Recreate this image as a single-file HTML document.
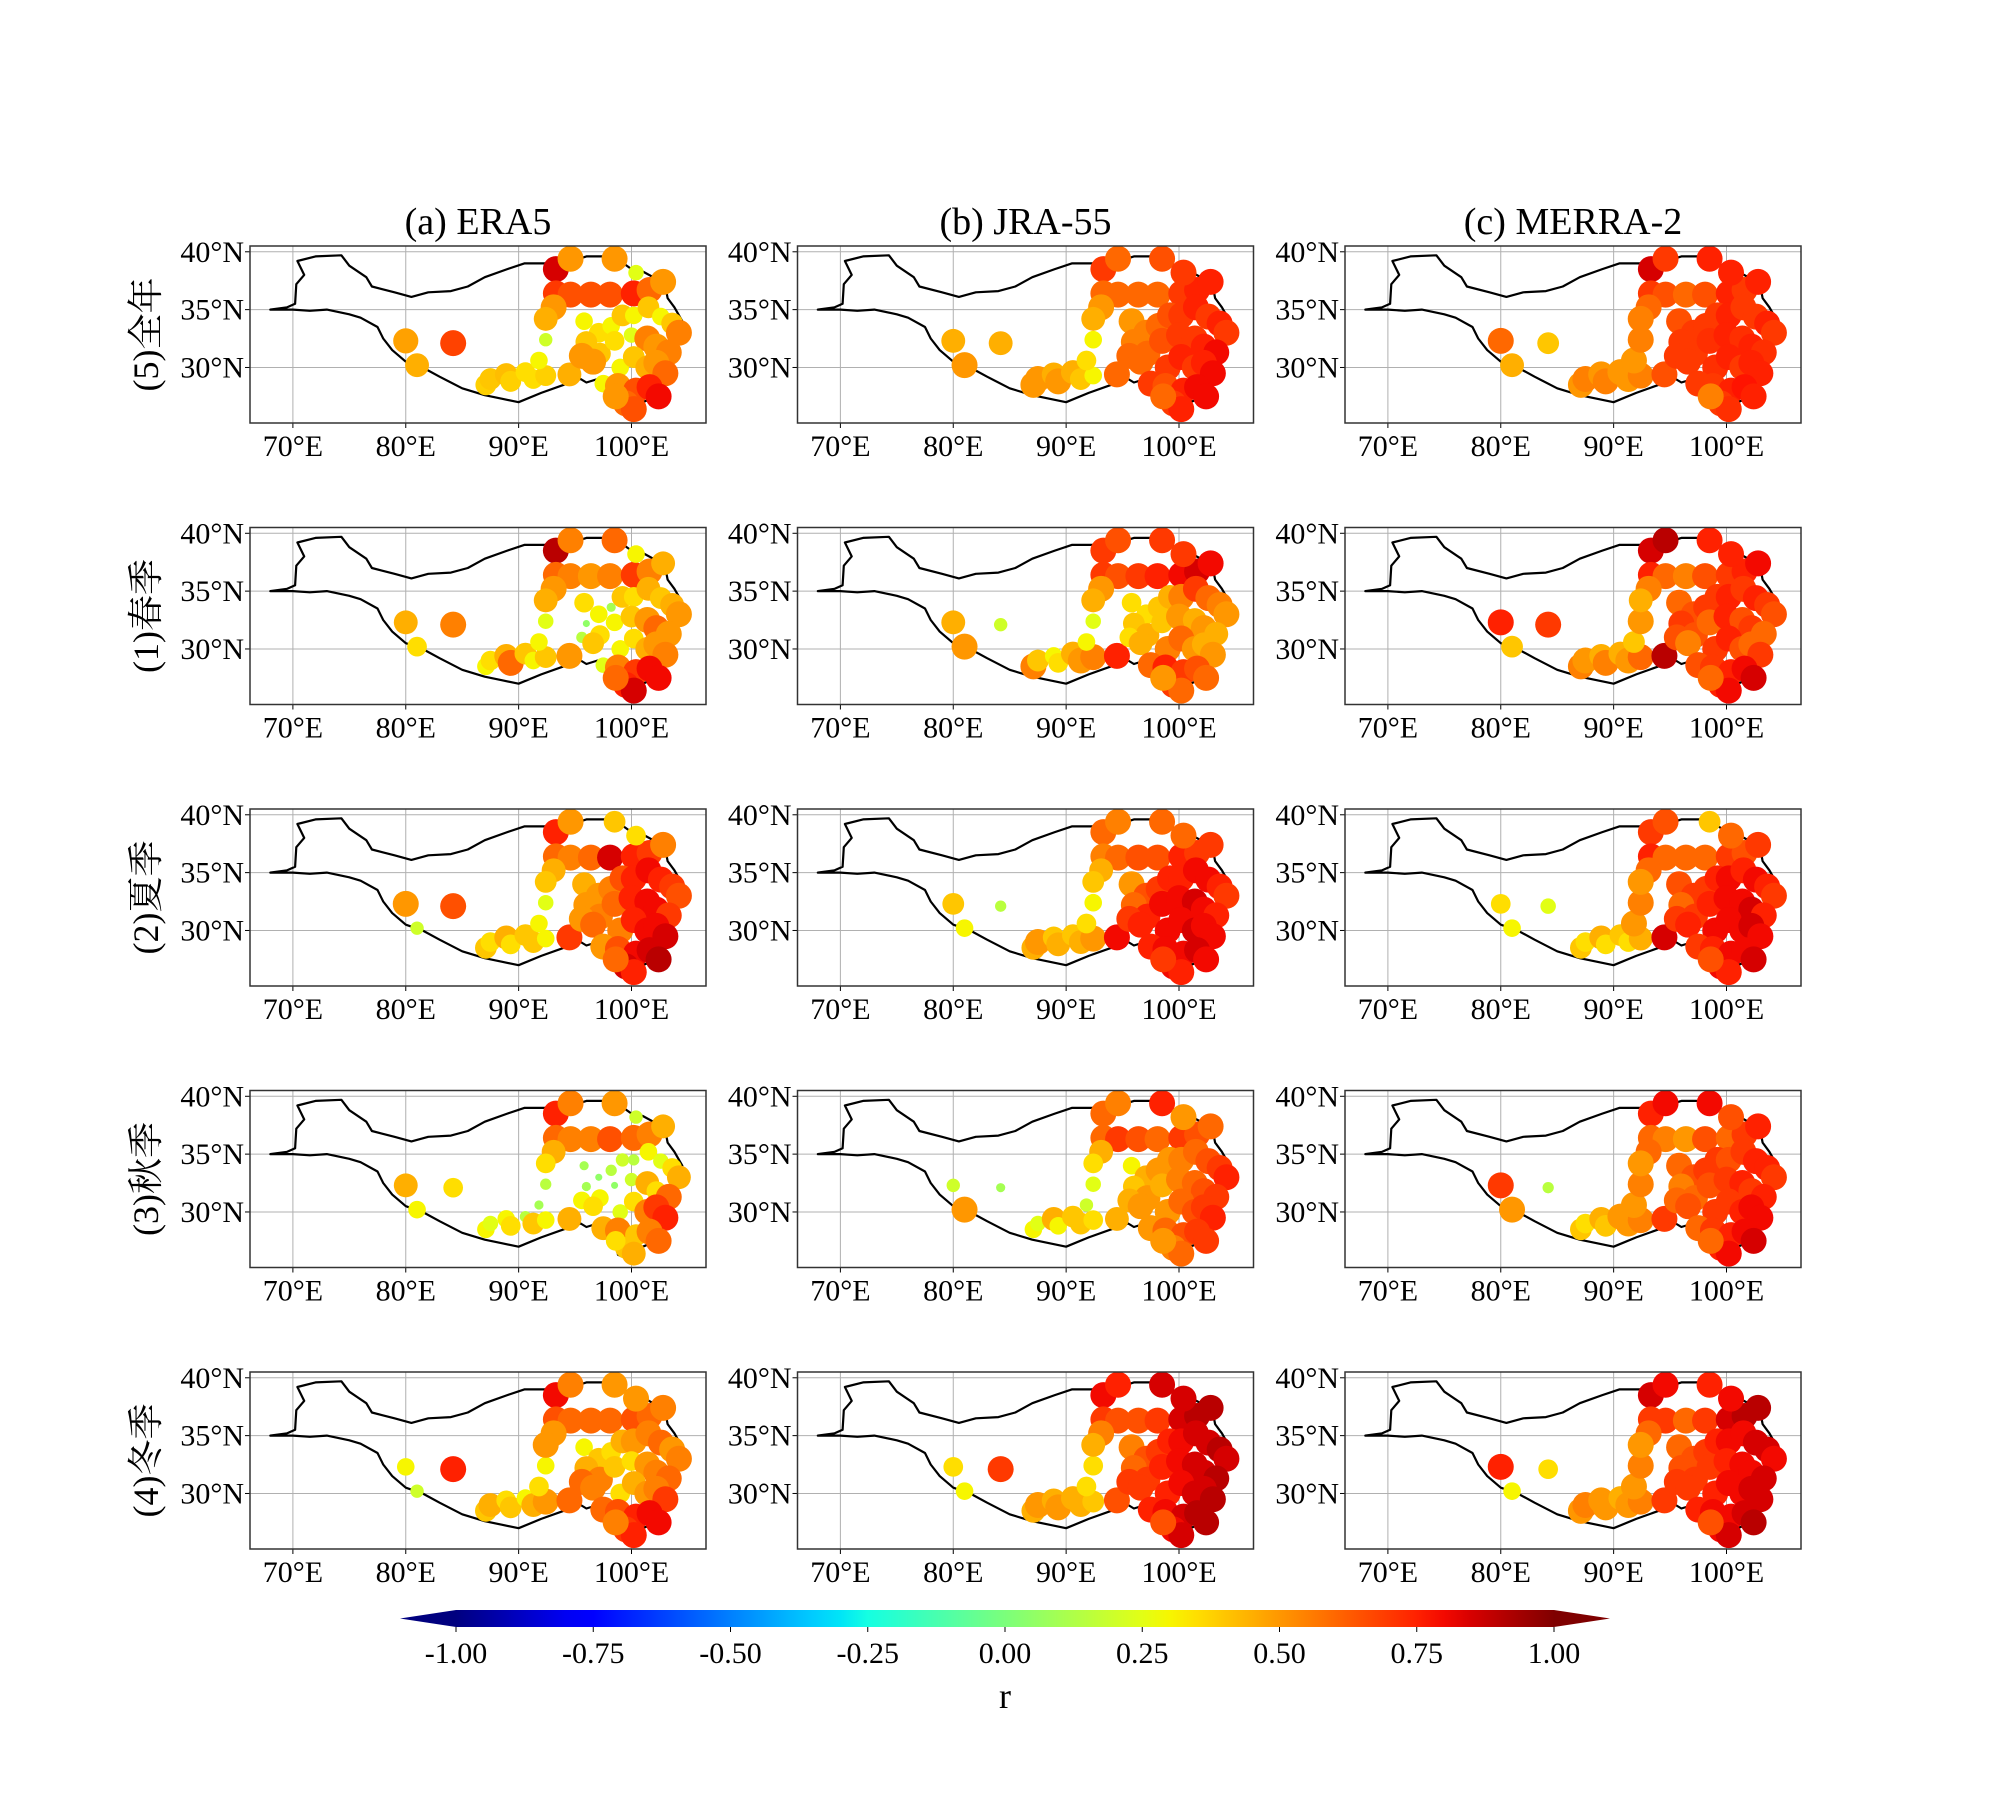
<!DOCTYPE html>
<html><head><meta charset="utf-8">
<style>
html,body{margin:0;padding:0;background:#fff;}
svg{display:block;font-family:"Liberation Serif","Noto Serif CJK SC","Noto Sans CJK SC",serif;}
</style></head>
<body>
<svg id="fig" width="2000" height="1800" viewBox="0 0 2000 1800" xmlns="http://www.w3.org/2000/svg">
<defs>
<linearGradient id="jet" x1="0" x2="1" y1="0" y2="0"></linearGradient>
</defs>
<g id="panels"></g>
<g id="cbar"></g>
</svg>
<script>
const lons = [80.0,84.2,81.0,87.1,87.5,88.9,89.3,90.6,91.3,92.4,94.5,91.8,92.4,93.3,94.6,98.5,93.3,94.6,96.4,98.1,100.2,101.6,102.8,100.4,93.1,92.4,95.8,97.1,98.2,99.2,100.2,101.5,102.6,103.6,104.2,96.0,97.2,98.5,100.0,101.4,102.2,103.3,95.6,96.6,99.0,100.2,101.4,102.2,103.0,97.5,98.8,100.4,101.6,102.4,99.5,100.2,98.6];
const lats = [32.3,32.1,30.2,28.5,29.0,29.4,28.8,29.6,29.0,29.3,29.4,30.6,32.4,38.5,39.4,39.4,36.4,36.3,36.3,36.3,36.4,36.7,37.4,38.2,35.2,34.2,34.0,33.0,33.6,34.5,34.5,35.2,34.4,33.8,33.0,32.2,31.2,32.3,32.8,32.5,31.8,31.3,31.0,30.5,30.0,30.9,30.0,30.4,29.5,28.6,28.4,28.0,28.3,27.5,26.9,26.4,27.5];
const colTitles = ["(a) ERA5","(b) JRA-55","(c) MERRA-2"];
const rowTitles = ["(5)全年","(1)春季","(2)夏季","(3)秋季","(4)冬季"];
const xTicks = [70,80,90,100];
const xTickLabels = ["70°E","80°E","90°E","100°E"];
const yTicks = [30,35,40];
const yTickLabels = ["30°N","35°N","40°N"];
const cbTicks = [-1,-0.75,-0.5,-0.25,0,0.25,0.5,0.75,1];
const cbTickLabels = ["-1.00","-0.75","-0.50","-0.25","0.00","0.25","0.50","0.75","1.00"];
const r_annual_era5 = [.48,.68,.45,.38,.4,.42,.38,.35,.35,.38,.45,.3,.2,.85,.5,.5,.7,.65,.65,.65,.75,.6,.5,.25,.5,.45,.3,.35,.3,.4,.3,.4,.3,.4,.55,.4,.4,.35,.25,.55,.5,.55,.5,.5,.3,.4,.45,.5,.6,.3,.5,.65,.75,.8,.6,.65,.5];
const r_annual_jra = [.45,.45,.5,.5,.5,.45,.5,.45,.4,.3,.6,.35,.3,.7,.6,.65,.6,.6,.6,.6,.7,.75,.75,.7,.5,.45,.5,.55,.6,.65,.7,.75,.7,.75,.7,.55,.6,.65,.7,.7,.75,.8,.6,.6,.7,.75,.7,.75,.8,.7,.65,.75,.8,.8,.7,.75,.6];
const r_annual_merra = [.6,.4,.45,.5,.55,.5,.55,.5,.5,.55,.65,.5,.55,.85,.7,.75,.7,.65,.6,.65,.75,.7,.75,.75,.6,.55,.65,.7,.7,.7,.75,.7,.7,.75,.7,.7,.7,.72,.75,.72,.75,.72,.7,.7,.72,.75,.7,.75,.75,.7,.7,.75,.78,.75,.7,.72,.55];
const r_spring_era5 = [.45,.55,.35,.3,.35,.45,.6,.4,.3,.4,.5,.3,.25,.9,.55,.6,.6,.55,.5,.55,.7,.55,.45,.3,.5,.45,.35,.3,.1,.4,.35,.45,.4,.45,.5,.05,.35,.3,.4,.5,.6,.5,.15,.4,.3,.35,.45,.5,.55,.25,.55,.7,.8,.8,.75,.85,.6];
const r_spring_jra = [.45,.2,.5,.55,.4,.3,.35,.45,.5,.55,.75,.3,.25,.7,.65,.7,.7,.65,.7,.75,.8,.85,.8,.7,.5,.45,.35,.35,.4,.45,.55,.7,.6,.55,.5,.4,.45,.4,.5,.45,.5,.45,.35,.45,.55,.6,.5,.45,.5,.6,.75,.7,.65,.6,.7,.6,.5];
const r_spring_merra = [.75,.7,.4,.55,.5,.45,.55,.45,.5,.6,.9,.4,.5,.85,.9,.75,.75,.6,.55,.65,.7,.75,.8,.75,.55,.45,.6,.65,.7,.7,.75,.7,.75,.7,.65,.7,.65,.6,.75,.65,.7,.6,.65,.55,.7,.75,.65,.6,.7,.65,.7,.75,.8,.85,.75,.8,.6];
const r_summer_era5 = [.5,.65,.2,.4,.35,.45,.35,.4,.4,.3,.7,.3,.25,.75,.5,.4,.6,.55,.6,.85,.75,.7,.55,.35,.45,.4,.45,.5,.55,.65,.75,.8,.75,.7,.65,.5,.55,.6,.75,.8,.8,.7,.5,.6,.55,.75,.8,.8,.85,.5,.65,.8,.85,.9,.85,.75,.6];
const r_summer_jra = [.4,.15,.3,.45,.5,.4,.45,.4,.45,.5,.8,.35,.3,.6,.55,.6,.55,.6,.65,.65,.75,.7,.7,.6,.45,.4,.5,.65,.7,.75,.75,.8,.8,.75,.7,.6,.75,.8,.8,.85,.8,.75,.7,.75,.8,.8,.85,.8,.8,.75,.8,.8,.85,.8,.8,.75,.7];
const r_summer_merra = [.35,.25,.3,.4,.35,.45,.35,.4,.35,.45,.85,.5,.55,.7,.65,.4,.75,.6,.6,.6,.7,.65,.7,.6,.6,.5,.65,.7,.7,.75,.8,.75,.8,.75,.7,.6,.7,.75,.8,.8,.85,.75,.7,.75,.8,.8,.8,.85,.8,.7,.75,.8,.8,.85,.8,.75,.65];
const r_autumn_era5 = [.45,.35,.3,.3,.25,.3,.35,.15,.4,.3,.45,.1,.15,.75,.55,.5,.6,.55,.55,.65,.6,.55,.45,.2,.45,.35,.1,.05,.15,.2,.15,.3,.25,.35,.45,.1,.3,.05,.2,.45,.35,.6,.3,.35,.25,.35,.55,.7,.75,.45,.55,.4,.55,.6,.4,.45,.35];
const r_autumn_jra = [.2,.1,.5,.3,.25,.45,.3,.4,.4,.35,.45,.2,.25,.6,.55,.75,.6,.7,.65,.6,.7,.65,.6,.5,.45,.35,.3,.45,.5,.5,.55,.6,.65,.7,.75,.4,.5,.45,.55,.6,.65,.7,.45,.5,.5,.6,.65,.7,.75,.5,.6,.65,.7,.7,.55,.6,.5];
const r_autumn_merra = [.7,.15,.5,.4,.35,.45,.4,.5,.5,.55,.7,.5,.55,.75,.8,.8,.6,.55,.5,.65,.6,.7,.75,.65,.6,.5,.6,.65,.7,.7,.65,.7,.75,.75,.7,.55,.6,.65,.7,.75,.7,.75,.6,.65,.7,.7,.75,.8,.8,.6,.7,.75,.8,.85,.75,.8,.6];
const r_winter_era5 = [.3,.75,.2,.4,.45,.35,.4,.3,.45,.5,.6,.35,.3,.8,.55,.5,.65,.6,.6,.6,.65,.6,.55,.5,.5,.5,.3,.4,.35,.45,.5,.55,.6,.5,.55,.45,.55,.4,.35,.5,.55,.6,.6,.55,.35,.45,.5,.55,.7,.6,.65,.75,.8,.8,.7,.75,.55];
const r_winter_jra = [.35,.7,.3,.45,.5,.45,.5,.45,.45,.4,.65,.35,.35,.8,.75,.85,.7,.65,.65,.7,.85,.9,.9,.85,.55,.45,.55,.65,.7,.75,.8,.85,.85,.9,.85,.6,.7,.75,.8,.85,.85,.9,.7,.7,.75,.8,.85,.85,.9,.75,.8,.85,.9,.9,.8,.85,.65];
const r_winter_merra = [.75,.35,.3,.5,.55,.5,.5,.45,.5,.55,.7,.5,.55,.85,.8,.75,.7,.7,.6,.7,.85,.9,.9,.8,.6,.5,.6,.65,.7,.75,.8,.8,.85,.85,.8,.65,.7,.7,.75,.8,.8,.85,.7,.7,.75,.8,.8,.85,.85,.75,.8,.8,.85,.9,.8,.85,.65];
const panelValues = [
 [r_annual_era5, r_annual_jra, r_annual_merra],
 [r_spring_era5, r_spring_jra, r_spring_merra],
 [r_summer_era5, r_summer_jra, r_summer_merra],
 [r_autumn_era5, r_autumn_jra, r_autumn_merra],
 [r_winter_era5, r_winter_jra, r_winter_merra]];
const borderLon = [68.0,69.5,70.2,70.3,71.0,70.4,72.0,74.3,75.0,76.5,77.0,79.0,80.5,82.0,84.0,85.5,87.0,89.0,90.5,93.0,95.0,96.0,98.0,99.0,100.0,101.0,102.5,103.0,103.2,103.8,104.5,104.6,103.5,103.2,102.8,102.6,102.0,101.5,101.0,100.5,99.5,98.8,98.5,98.0,97.5,97.0,96.0,95.5,94.0,92.0,90.0,88.5,87.0,85.0,83.0,81.5,80.0,78.8,78.0,77.5,76.0,75.0,73.0,71.5,70.0,68.0];
const borderLat = [35.0,35.2,35.5,37.2,38.0,39.2,39.6,39.7,38.8,37.8,37.0,36.5,36.1,36.5,36.6,37.0,37.8,38.5,39.0,39.0,39.3,39.6,39.6,39.2,38.5,38.3,37.5,37.0,36.0,35.2,34.0,32.8,31.5,30.5,29.5,28.5,28.0,27.2,27.0,26.5,26.0,26.3,27.5,28.0,28.5,29.0,28.7,29.0,28.5,27.8,27.0,27.3,27.6,28.2,29.2,30.0,30.5,31.5,32.5,33.5,34.3,34.6,35.0,34.9,35.0,35.0];

const NS="http://www.w3.org/2000/svg";
function mk(tag,attrs,parent){const e=document.createElementNS(NS,tag);for(const k in attrs)e.setAttribute(k,attrs[k]);if(parent)parent.appendChild(e);return e;}
function seg(pts,t){for(let i=1;i<pts.length;i++){if(t<=pts[i][0]){const a=pts[i-1],b=pts[i];return a[1]+(b[1]-a[1])*(t-a[0])/(b[0]-a[0]);}}return pts[pts.length-1][1];}
const JR=[[0,0],[0.35,0],[0.66,1],[0.89,1],[1,0.5]];
const JG=[[0,0],[0.125,0],[0.375,1],[0.64,1],[0.91,0],[1,0]];
const JB=[[0,0.5],[0.11,1],[0.34,1],[0.65,0],[1,0]];
function jet(v){let t=(v+1)/2;t=Math.max(0,Math.min(1,t));
 return `rgb(${Math.round(seg(JR,t)*255)},${Math.round(seg(JG,t)*255)},${Math.round(seg(JB,t)*255)})`;}
const colX=[250,797.5,1345], rowY=[246,527.5,809,1090.5,1372], PW=456, PH=177;
const LON0=66.2,LON1=106.6,LAT0=25.2,LAT1=40.5;
const panels=document.getElementById('panels');
for(let c=0;c<3;c++){
 const t=mk('text',{x:colX[c]+PW/2,y:234,'font-size':38,'text-anchor':'middle'},panels);
 
 
 t.textContent=colTitles[c];
}
for(let r=0;r<5;r++){
 const cy=rowY[r]+PH/2;
 const t=mk('text',{x:0,y:0,'font-size':36,'text-anchor':'middle',transform:`translate(158,${cy}) rotate(-90)`},panels);
 
 
 t.textContent=rowTitles[r];
 for(let c=0;c<3;c++){
  const x0=colX[c],y0=rowY[r];
  const sx=lon=>x0+(lon-LON0)/(LON1-LON0)*PW;
  const sy=lat=>y0+(LAT1-lat)/(LAT1-LAT0)*PH;
  const g=mk('g',{},panels);
  
  
  const cp='clip'+r+c;
  const cpe=mk('clipPath',{id:cp},g);mk('rect',{x:x0,y:y0,width:PW,height:PH},cpe);
  xTicks.forEach((lon,i)=>{
   mk('line',{x1:sx(lon),x2:sx(lon),y1:y0,y2:y0+PH,stroke:'#b0b0b0','stroke-width':1},g);
   mk('line',{x1:sx(lon),x2:sx(lon),y1:y0+PH,y2:y0+PH+5,stroke:'#000','stroke-width':1},g);
   const tl=mk('text',{x:sx(lon),y:y0+PH+33,'font-size':30,'text-anchor':'middle'},g);
   
   
   tl.textContent=xTickLabels[i];
  });
  yTicks.forEach((lat,i)=>{
   mk('line',{x1:x0,x2:x0+PW,y1:sy(lat),y2:sy(lat),stroke:'#b0b0b0','stroke-width':1},g);
   mk('line',{x1:x0-5,x2:x0,y1:sy(lat),y2:sy(lat),stroke:'#000','stroke-width':1},g);
   const tl=mk('text',{x:x0-6,y:sy(lat)+10,'font-size':30,'text-anchor':'end'},g);
   
   
   tl.textContent=yTickLabels[i];
  });
  const pts=borderLon.map((lon,i)=>sx(lon).toFixed(1)+','+sy(borderLat[i]).toFixed(1)).join(' ');
  const bd=mk('polygon',{points:pts,fill:'none',stroke:'#000','stroke-width':2.2,'stroke-linejoin':'round'},g);
  
  
  const vals=panelValues[r][c];
  const dg=mk('g',{'clip-path':`url(#${cp})`},g);
  vals.forEach((v,i)=>{
   const dot=mk('circle',{cx:sx(lons[i]),cy:sy(lats[i]),r:Math.min(13,2.5+21*Math.abs(v)),fill:jet(v)},dg);
   
   
  });
  const fr=mk('rect',{x:x0,y:y0,width:PW,height:PH,fill:'none',stroke:'#333','stroke-width':1.5},g);
  
  
 }
}
const cb=document.getElementById('cbar');
const CB0=456,CB1=1554,CBY=1610,CBH=17;
const cx=v=>CB0+(v+1)/2*(CB1-CB0);
mk('polygon',{points:`${CB0},${CBY} ${CB0},${CBY+CBH} 400,${CBY+CBH/2}`,fill:'#00007f'},cb);
mk('polygon',{points:`${CB1},${CBY} ${CB1},${CBY+CBH} 1610,${CBY+CBH/2}`,fill:'#7f0000'},cb);
const grad=document.getElementById('jet');
for(let k=0;k<=40;k++){mk('stop',{offset:k/40,'stop-color':jet(-1+2*k/40)},grad);}
mk('rect',{x:CB0,y:CBY,width:CB1-CB0,height:CBH,fill:'url(#jet)'},cb);
cbTicks.forEach((v,i)=>{
 mk('line',{x1:cx(v),x2:cx(v),y1:CBY+CBH,y2:CBY+CBH+5,stroke:'#000','stroke-width':1},cb);
 const tl=mk('text',{x:cx(v),y:1663,'font-size':30,'text-anchor':'middle'},cb);
 
 
 tl.textContent=cbTickLabels[i];
});
const rl=mk('text',{x:1005,y:1708,'font-size':36,'text-anchor':'middle'},cb);


rl.textContent='r';
</script>
</body></html>
